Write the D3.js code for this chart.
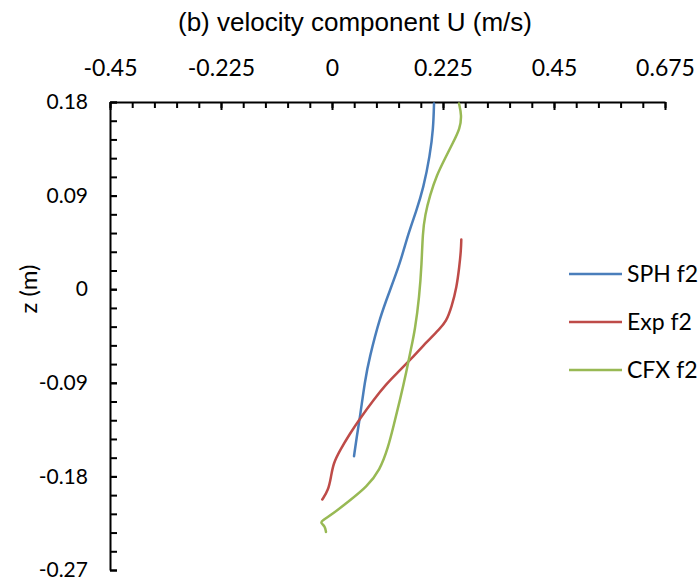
<!DOCTYPE html>
<html>
<head>
<meta charset="utf-8">
<script src="https://cdn.jsdelivr.net/npm/d3@7"></script>
<style>
  html, body { margin: 0; padding: 0; background: #fff; }
  svg { display: block; }
</style>
</head>
<body>
<svg id="chart" width="700" height="584"></svg>
<script>
// ---- data ----
const seriesNames = ["SPH f2", "Exp f2", "CFX f2"];
const seriesColors = ["#4A7EBB", "#BE4B48", "#98B954"];

const sphU = [0.2068, 0.2053, 0.1986, 0.1851, 0.1703, 0.1547, 0.1378, 0.1176, 0.0973, 0.0756, 0.0669, 0.0568, 0.0501, 0.0446];
const sphZ = [0.1786, 0.1545, 0.1288, 0.0968, 0.0743, 0.0535, 0.0247, -0.0010, -0.0266, -0.0666, -0.0875, -0.1228, -0.1420, -0.1606];

const expU = [0.2621, 0.2615, 0.2580, 0.2528, 0.2426, 0.2311, 0.2189, 0.1920, 0.1615, 0.1311, 0.1109, 0.0837, 0.0568, 0.0365, 0.0162, 0.0026, -0.0020, -0.0075, -0.0197];
const expZ = [0.0478, 0.0375, 0.0214, 0.0022, -0.0170, -0.0314, -0.0378, -0.0507, -0.0666, -0.0811, -0.0907, -0.1067, -0.1243, -0.1387, -0.1548, -0.1676, -0.1805, -0.1933, -0.2022];

const cfxU = [0.2574, 0.2629, 0.2595, 0.2459, 0.2291, 0.2122, 0.1986, 0.1885, 0.1838, 0.1818, 0.1770, 0.1682, 0.1595, 0.1514, 0.1378, 0.1243, 0.1141, 0.0973, 0.0703, 0.0365, 0.0026, -0.0209, -0.0229, -0.0142, -0.0122];
const cfxZ = [0.1786, 0.1673, 0.1545, 0.1416, 0.1257, 0.1096, 0.0904, 0.0712, 0.0536, 0.0247, -0.0074, -0.0394, -0.0587, -0.0779, -0.1067, -0.1324, -0.1516, -0.1740, -0.1901, -0.2029, -0.2157, -0.2228, -0.2247, -0.2279, -0.2334];

const xTicks = [-0.45, -0.225, 0, 0.225, 0.45, 0.675];
const xTickLabels = ["-0.45", "-0.225", "0", "0.225", "0.45", "0.675"];
const yTicks = [0.18, 0.09, 0, -0.09, -0.18, -0.27];
const yTickLabels = ["0.18", "0.09", "0", "-0.09", "-0.18", "-0.27"];

const titleText = "(b) velocity component U (m/s)";
const yAxisTitle = "z (m)";

// ---- layout ----
const svg = d3.select("#chart");
const L = 110, R = 665, T = 102, B = 570;

const x = d3.scaleLinear().domain([-0.45, 0.675]).range([L, R]);
const y = d3.scaleLinear().domain([-0.27, 0.18]).range([B, T]);

// minor ticks
const xMinor = d3.range(0, 26).map(i => -0.45 + i * 0.045);
const yMinor = d3.range(0, 26).map(i => -0.27 + i * 0.018);

// X minor ticks (top, pointing down)
svg.append("g")
  .attr("transform", `translate(0,${T})`)
  .call(d3.axisTop(x).tickValues(xMinor).tickSize(-6).tickFormat(""))
  .call(g => g.select(".domain").remove())
  .call(g => g.selectAll("line").attr("stroke", "#000").attr("stroke-width", 2));

// X major axis
svg.append("g")
  .attr("transform", `translate(0,${T})`)
  .call(d3.axisTop(x).tickValues(xTicks).tickSize(-8).tickSizeOuter(0).tickPadding(26)
    .tickFormat((d, i) => xTickLabels[i]))
  .call(g => g.select(".domain").attr("stroke", "#000").attr("stroke-width", 2))
  .call(g => g.selectAll("line").attr("stroke", "#000").attr("stroke-width", 2))
  .call(g => g.selectAll("text")
    .attr("font-family", "Lato, 'Noto Sans', sans-serif")
    .attr("font-size", 23).attr("fill", "#000"));

// Y minor ticks (pointing right)
svg.append("g")
  .attr("transform", `translate(${L},0)`)
  .call(d3.axisLeft(y).tickValues(yMinor).tickSize(-7).tickFormat(""))
  .call(g => g.select(".domain").remove())
  .call(g => g.selectAll("line").attr("stroke", "#000").attr("stroke-width", 2));

// Y major axis
svg.append("g")
  .attr("transform", `translate(${L},0)`)
  .call(d3.axisLeft(y).tickValues(yTicks).tickSize(-7).tickSizeOuter(0).tickPadding(22)
    .tickFormat((d, i) => yTickLabels[i]))
  .call(g => g.select(".domain").attr("stroke", "#000").attr("stroke-width", 2))
  .call(g => g.selectAll("line").attr("stroke", "#000").attr("stroke-width", 2))
  .call(g => g.selectAll("text")
    .attr("font-family", "Lato, 'Noto Sans', sans-serif")
    .attr("font-size", 21).attr("fill", "#000"));

// Title
svg.append("text")
  .attr("x", 355).attr("y", 31)
  .attr("text-anchor", "middle")
  .attr("font-family", "'Liberation Sans', Arial, sans-serif")
  .attr("font-size", 26)
  .attr("fill", "#000")
  .text(titleText);

// Y axis title
svg.append("text")
  .attr("transform", "translate(37,289) rotate(-90)")
  .attr("text-anchor", "middle")
  .attr("font-family", "Lato, 'Noto Sans', sans-serif")
  .attr("font-size", 24)
  .attr("fill", "#000")
  .text(yAxisTitle);

// Series
const series = [
  { u: sphU, z: sphZ },
  { u: expU, z: expZ },
  { u: cfxU, z: cfxZ }
];
const line = d3.line()
  .x(d => x(d[0]))
  .y(d => y(d[1]))
  .curve(d3.curveBasis);

series.forEach((s, i) => {
  const pts = s.u.map((u, j) => [u, s.z[j]]);
  svg.append("path")
    .datum(pts)
    .attr("d", line)
    .attr("fill", "none")
    .attr("stroke", seriesColors[i])
    .attr("stroke-width", 2.5)
    .attr("stroke-linecap", "round")
    .attr("stroke-linejoin", "round");
});

// Legend
const legendY = [274, 322, 370];
seriesNames.forEach((name, i) => {
  const g = svg.append("g");
  g.append("line")
    .attr("x1", 569).attr("x2", 622)
    .attr("y1", legendY[i]).attr("y2", legendY[i])
    .attr("stroke", seriesColors[i]).attr("stroke-width", 2.5);
  g.append("text")
    .attr("x", 627).attr("y", legendY[i] + 8)
    .attr("font-family", "Lato, 'Noto Sans', sans-serif")
    .attr("font-size", 23)
    .attr("fill", "#000")
    .text(name);
});
</script>
</body>
</html>
